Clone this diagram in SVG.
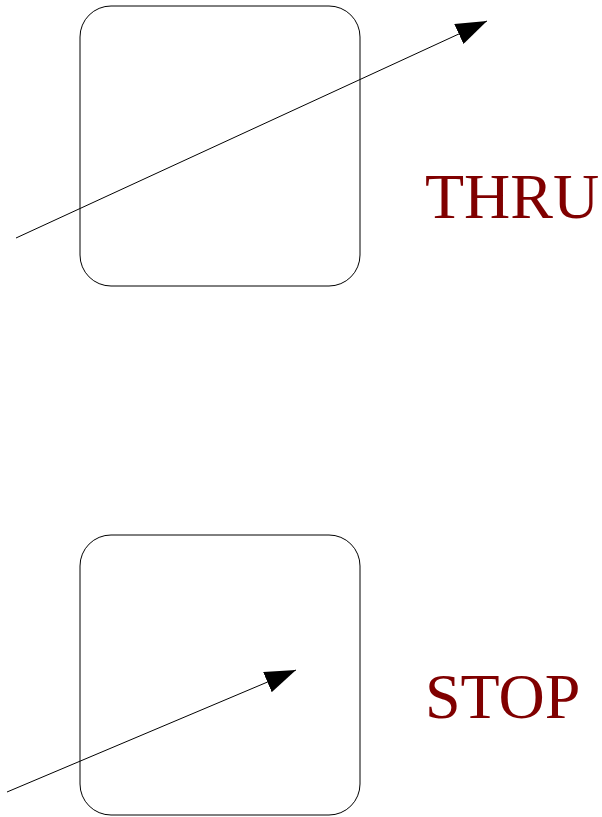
<svg xmlns="http://www.w3.org/2000/svg" width="602" height="817" viewBox="0 0 602 817">
<style>
.box{fill:none;stroke:#000;stroke-width:1}
.conn{fill:none;stroke:#000;stroke-width:1}
.lbl{font-family:"Liberation Serif",serif;font-size:64px;fill:#800000}
</style>
<defs>
<marker id="ah" markerUnits="userSpaceOnUse" markerWidth="32" markerHeight="22" viewBox="0 0 32 22" refX="31" refY="11" orient="auto">
<path d="M0,0 L31,11 L0,22 z" fill="#000"/>
</marker>
</defs>
<rect width="602" height="817" fill="#fff"/>
<g id="thru-box"><rect class="box" x="80" y="6" width="280" height="280" rx="31" ry="31"/></g>
<g id="stop-box"><rect class="box" x="80" y="535" width="280" height="280" rx="31" ry="31"/></g>
<g id="thru-label"><text class="lbl" x="425" y="218">THRU</text></g>
<g id="stop-label"><text class="lbl" x="425" y="718">STOP</text></g>
<g id="connectors">
<line class="conn" x1="16" y1="238" x2="487" y2="21" marker-end="url(#ah)"/>
<line class="conn" x1="7" y1="792" x2="296" y2="670" marker-end="url(#ah)"/>
</g>
</svg>
